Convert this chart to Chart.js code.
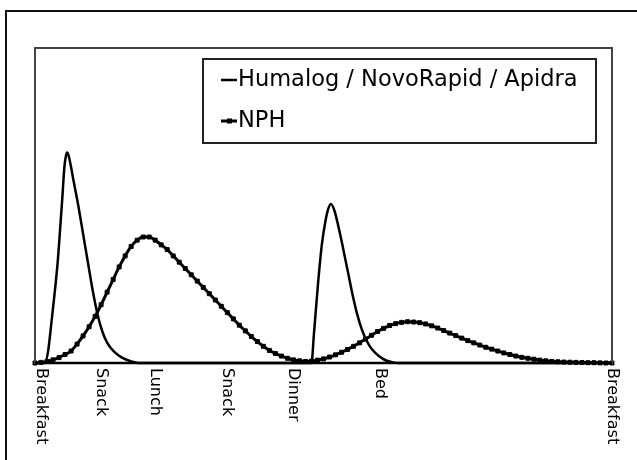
<!DOCTYPE html>
<html lang="en">
<head>
<meta charset="UTF-8">
<title>Insulin action profile</title>
<script src="https://cdn.jsdelivr.net/npm/chart.js"></script>
<style>
  body { margin: 0; background: #fff; }
  #wrap { width: 637px; height: 460px; }
</style>
</head>
<body>
<div id="wrap"><canvas id="insulinChart"></canvas></div>
<script>
// x = hours after breakfast, y = relative insulin action
const mealHours = [0.25, 2.75, 5, 8, 10.75, 14.35, 24];
const mealLabels = ['Breakfast', 'Snack', 'Lunch', 'Snack', 'Dinner', 'Bed', 'Breakfast'];

const rapidHours = [0, 0.42, 0.55, 0.65, 0.8, 0.94, 1.04, 1.14, 1.22, 1.28, 1.34, 1.4, 1.48, 1.6, 1.8, 2.0, 2.2, 2.4, 2.6, 2.8, 3.0, 3.3, 3.6, 4.0, 4.3,
  11.5, 11.6, 11.77, 11.93, 12.08, 12.2, 12.31, 12.45, 12.6, 12.8, 13.0, 13.2, 13.4, 13.6, 13.8, 14.0, 14.3, 14.6, 14.9, 15.1, 24];
const rapidValues = [0, 0, 4, 10.5, 21, 31.7, 42, 52.8, 62, 65.5, 66.8, 65.8, 63, 58, 50, 41, 32, 23, 15.5, 10, 6.5, 3.5, 1.8, 0.5, 0,
  0, 9, 25, 37.5, 45, 49, 50.5, 48.5, 44, 37, 29.5, 22, 15.5, 10.5, 7, 4.5, 2.2, 0.8, 0.2, 0, 0];

// NPH read every quarter hour, 0 h .. 24 h
const nphValues = [
  0, 0.2, 0.5, 1.0, 1.7, 2.7, 3.8, 6.0,
  8.6, 11.5, 14.8, 18.5, 22.5, 26.5, 30.5, 34,
  37, 39, 40, 40, 39, 37.5, 36, 34,
  32, 30, 28, 26, 24, 22, 20, 18,
  16, 14, 12, 10.2, 8.4, 6.8, 5.3, 4.0,
  3.0, 2.2, 1.5, 1.0, 0.7, 0.5, 0.6, 0.9,
  1.3, 1.9, 2.6, 3.4, 4.3, 5.3, 6.4, 7.6,
  8.8, 10.0, 11.0, 11.9, 12.5, 12.9, 13.1, 13.0,
  12.8, 12.4, 11.8, 11.1, 10.3, 9.5, 8.7, 7.9,
  7.1, 6.4, 5.7, 5.0, 4.4, 3.8, 3.2, 2.7,
  2.2, 1.8, 1.5, 1.2, 0.9, 0.7, 0.5, 0.4,
  0.3, 0.25, 0.2, 0.15, 0.1, 0.1, 0.05, 0,
  0
];
const nphHours = nphValues.map((_, i) => i * 0.25);

const fontFamily = '"DejaVu Sans", sans-serif';

// frame, plot box, rotated meal labels and the boxed legend
const decor = {
  id: 'decor',
  beforeDraw(chart) {
    const ctx = chart.ctx;
    ctx.save();
    ctx.strokeStyle = '#111';
    ctx.lineWidth = 2;
    ctx.beginPath();
    ctx.moveTo(6, 460);
    ctx.lineTo(6, 11);
    ctx.lineTo(637, 11);
    ctx.stroke();
    ctx.restore();
  },
  afterDatasetsDraw(chart) {
    const ctx = chart.ctx;
    const a = chart.chartArea;
    const x = chart.scales.x;
    ctx.save();
    ctx.strokeStyle = '#444';
    ctx.lineWidth = 2;
    ctx.strokeRect(a.left, a.top, a.right - a.left, a.bottom - a.top);
    ctx.strokeStyle = '#000';
    ctx.lineWidth = 2.5;
    ctx.beginPath();
    ctx.moveTo(a.left, a.bottom);
    ctx.lineTo(a.right, a.bottom);
    ctx.stroke();

    // meal labels, reading downwards
    ctx.fillStyle = '#000';
    ctx.font = '16px ' + fontFamily;
    ctx.textAlign = 'left';
    ctx.textBaseline = 'middle';
    mealHours.forEach((h, i) => {
      ctx.save();
      ctx.translate(x.getPixelForValue(h), a.bottom + 5);
      ctx.rotate(Math.PI / 2);
      ctx.fillText(mealLabels[i], 0, 0);
      ctx.restore();
    });

    // legend
    const lx = 203, ly = 59, lw = 393, lh = 84;
    ctx.strokeStyle = '#222';
    ctx.lineWidth = 2;
    ctx.strokeRect(lx, ly, lw, lh);
    ctx.font = '22.5px ' + fontFamily;
    const rows = [80, 121];
    chart.data.datasets.forEach((ds, i) => {
      const y = rows[i];
      ctx.strokeStyle = ds.borderColor;
      ctx.lineWidth = ds.borderWidth;
      ctx.beginPath();
      ctx.moveTo(221, y);
      ctx.lineTo(237, y);
      ctx.stroke();
      if (ds.pointRadius > 0) {
        ctx.fillStyle = ds.borderColor;
        ctx.fillRect(227, y - 2.5, 5, 5);
      }
      ctx.fillStyle = '#000';
      ctx.fillText(ds.label, 238, y);
    });
    ctx.restore();
  }
};

new Chart(document.getElementById('insulinChart'), {
  type: 'line',
  data: {
    datasets: [
      {
        label: 'Humalog / NovoRapid / Apidra',
        data: rapidHours.map((h, i) => ({ x: h, y: rapidValues[i] })),
        borderColor: '#000',
        borderWidth: 2.5,
        pointRadius: 0,
        cubicInterpolationMode: 'monotone',
        clip: false
      },
      {
        label: 'NPH',
        data: nphHours.map((h, i) => ({ x: h, y: nphValues[i] })),
        borderColor: '#000',
        backgroundColor: '#000',
        borderWidth: 3,
        pointStyle: 'rect',
        pointRadius: 2.8,
        pointBorderWidth: 1,
        cubicInterpolationMode: 'monotone',
        clip: false
      }
    ]
  },
  options: {
    responsive: true,
    maintainAspectRatio: false,
    animation: false,
    layout: { padding: { left: 35, top: 48, right: 25, bottom: 97 } },
    plugins: { legend: { display: false }, tooltip: { enabled: false } },
    scales: {
      x: { type: 'linear', min: 0, max: 24, display: false },
      y: { min: 0, max: 100, display: false }
    }
  },
  plugins: [decor]
});
</script>
</body>
</html>
